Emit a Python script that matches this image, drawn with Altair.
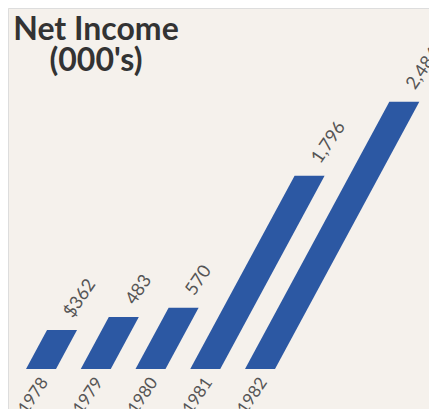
import altair as alt
import pandas as pd

# ---- data ----
YEARS = ["1978", "1979", "1980", "1981", "1982"]
VALUES = [362, 483, 570, 1796, 2484]
LABELS = ["$362", "483", "570", "1,796", "2,484"]

# ---- styling / geometry constants ----
BLUE = "#2c58a3"
BG = "#f5f1ec"
TEXT = "#555555"
FONT = "Lato"
W, H = 421, 401
SLOT_PX = 54.75          # pixels between neighbouring bars
PX_PER_UNIT = 0.1076     # vertical pixels per thousand dollars
SLANT = 0.54             # horizontal shift per pixel of height
SHEAR = PX_PER_UNIT * SLANT / SLOT_PX   # slot units per value unit
BAR_W = 30 / SLOT_PX
X_DOMAIN = [-18 / SLOT_PX, (W - 18) / SLOT_PX]
BASE_PX = 361            # baseline, from the top of the plot
Y_DOMAIN = [-(H - BASE_PX) / PX_PER_UNIT, BASE_PX / PX_PER_UNIT]

df = pd.DataFrame({"year": YEARS, "value": VALUES, "label": LABELS,
                   "idx": list(range(len(YEARS)))})

xs = alt.Scale(domain=X_DOMAIN, nice=False, zero=False)
ys = alt.Scale(domain=Y_DOMAIN, nice=False, zero=False)

base = alt.Chart(df)

bars = (
    base.transform_calculate(lo="0", hi="datum.value")
    .transform_fold(["lo", "hi"], as_=["end", "h"])
    .transform_calculate(
        xl=f"datum.idx + datum.h * {SHEAR}",
        xr=f"datum.idx + datum.h * {SHEAR} + {BAR_W}",
    )
    .mark_area(orient="horizontal", color=BLUE)
    .encode(
        y=alt.Y("h:Q", scale=ys, axis=None),
        x=alt.X("xl:Q", scale=xs, axis=None),
        x2="xr:Q",
        detail="year:N",
    )
)

value_labels = (
    base.transform_calculate(xt=f"datum.idx + datum.value * {SHEAR} + {BAR_W} / 2")
    .mark_text(align="left", baseline="bottom", angle=304, xOffset=14, yOffset=-9,
               font=FONT, fontSize=18, color=TEXT)
    .encode(
        x=alt.X("xt:Q", scale=xs, axis=None),
        y=alt.Y("value:Q", scale=ys, axis=None),
        text="label:N",
    )
)

year_labels = (
    base.transform_calculate(xt=f"datum.idx + {BAR_W} / 2", y0="0")
    .mark_text(align="right", baseline="top", angle=304, xOffset=-3, yOffset=6,
               font=FONT, fontSize=17, color=TEXT)
    .encode(
        x=alt.X("xt:Q", scale=xs, axis=None),
        y=alt.Y("y0:Q", scale=ys, axis=None),
        text="year:N",
    )
)

chart = (
    alt.layer(bars, value_labels, year_labels)
    .properties(
        width=W, height=H,
        autosize=alt.AutoSizeParams(type="none"),
        padding=0,
        title=alt.Title(["Net Income", "(000's)"], anchor="start", align="center",
                        baseline="top", dx=88, dy=74, font=FONT, fontSize=32,
                        fontWeight="bold", color="#333333", lineHeight=31),
    )
    .configure_view(stroke=None)
    .configure(background=BG)
)

chart.save("out.html", embed_options={"renderer": "svg", "actions": False})
